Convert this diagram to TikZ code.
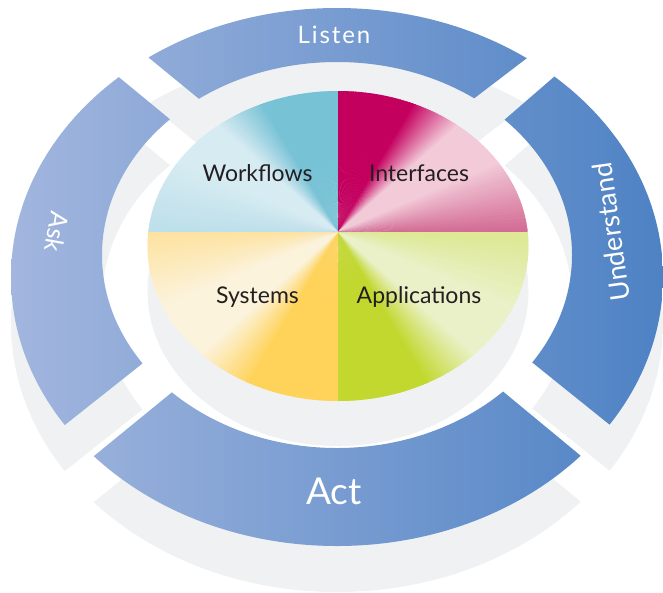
\documentclass[tikz,border=0pt]{standalone}
\usepackage{fontspec}
\setmainfont{Lato}
\usetikzlibrary{calc}
\definecolor{ringL}{RGB}{162,182,222}
\definecolor{ringR}{RGB}{78,130,196}
\definecolor{shadowgray}{RGB}{240,241,243}
\definecolor{wfSat}{RGB}{120,194,214}
\definecolor{wfLight}{RGB}{214,235,242}
\definecolor{wfEdge}{RGB}{188,223,234}
\definecolor{ifSat}{RGB}{196,0,95}
\definecolor{ifLight}{RGB}{242,202,216}
\definecolor{ifEdge}{RGB}{210,104,146}
\definecolor{apSat}{RGB}{194,216,47}
\definecolor{apLight}{RGB}{234,241,200}
\definecolor{apEdge}{RGB}{220,232,145}
\definecolor{sySat}{RGB}{255,211,90}
\definecolor{syLight}{RGB}{252,243,220}
\definecolor{syEdge}{RGB}{253,226,158}
\definecolor{labeltext}{RGB}{35,31,32}
\newcommand{\ringpiece}[6]{%
  \begin{scope}[even odd rule]
    \clip ($(#2)!2.5!(#1)$) -- ($(#1)!1.3!(#2)$) -- ($(#4)!1.3!(#3)$) -- ($(#3)!2.5!(#4)$) -- (#5) -- cycle;
    \clip (337,277) ellipse [x radius=326pt, y radius=269pt] (337,255) ellipse [x radius=235pt, y radius=193pt];
    #6
  \end{scope}}
\newcommand{\allpieces}[1]{%
  \ringpiece{148.3,57.3}{198.3,98.3}{475,97.7}{526.7,58.3}{337,-400}{#1}%
  \ringpiece{555,76}{505,119.3}{533.3,363.3}{610,425}{1100,250}{#1}%
  \ringpiece{94,456}{171.7,392.5}{504,392.3}{581,456}{337,1000}{#1}%
  \ringpiece{118.3,76.7}{170,119.3}{142.7,363.3}{65.7,424.3}{-400,250}{#1}}
\newcommand{\quadfill}[5]{%
  \foreach \t in {0,...,89}{%
    \pgfmathtruncatemacro\ps{\t<30 ? 100 : (\t<48 ? 100-(\t-30)*100/18 : 0)}%
    \pgfmathtruncatemacro\pe{\t<66 ? 0 : (\t-66)*100/24}%
    \colorlet{wc}{#3!\ps!#4}\colorlet{wc}{#5!\pe!wc}%
    \fill[wc] (C) -- ($(C)+({#1+#2*\t}:300)$) -- ($(C)+({#1+#2*(\t+1.4)}:300)$) -- cycle;
  }}
\tikzset{
  inlabel/.style={text=labeltext, font=\fontsize{23}{23}\selectfont, inner sep=0pt},
  ringlabel/.style={text=white, inner sep=0pt}
}
\begin{document}
\begin{tikzpicture}[x=1pt, y=-1pt]
\useasboundingbox (0,0) rectangle (663,592);
\fill[white] (0,0) rectangle (663,592);
\coordinate (C) at (338,232);
% shadow of the ring
\begin{scope}[yshift=-46pt]
  \allpieces{\fill[shadowgray] (-100,-500) rectangle (800,1100);}
\end{scope}
% shadow of the disk
\fill[shadowgray] (338,291) ellipse [x radius=190.5pt, y radius=155pt];
% blue ring
\allpieces{\shade[left color=ringL, right color=ringR] (11,-20) rectangle (664,620);}
% central disk quadrants
\begin{scope}
  \clip (338,246) ellipse [x radius=190.5pt, y radius=155pt];
  \begin{scope}\clip (338,232) rectangle (100,50); \quadfill{270}{-1}{wfSat}{wfLight}{wfEdge}\end{scope}
  \begin{scope}\clip (338,232) rectangle (600,50); \quadfill{270}{1}{ifSat}{ifLight}{ifEdge}\end{scope}
  \begin{scope}\clip (338,232) rectangle (600,450); \quadfill{90}{-1}{apSat}{apLight}{apEdge}\end{scope}
  \begin{scope}\clip (338,232) rectangle (100,450); \quadfill{90}{1}{sySat}{syLight}{syEdge}\end{scope}
\end{scope}
% labels
\node[inlabel] (wf) at (257.5,173) {Workflows};
\node[inlabel] (if) at (419,173) {Interfaces};
\node[inlabel] (sy) at (257.5,297) {Systems};
\node[inlabel] (ap) at (419,297) {Applications};
\node[ringlabel, font=\fontsize{24}{24}\selectfont\addfontfeatures{LetterSpace=8}] (listen) at (334,35) {Listen};
\node[ringlabel, font=\fontsize{37}{37}\selectfont] (act) at (334,491) {Act};
\node[ringlabel, rotate=-100, font=\fontsize{25}{25}\selectfont] (ask) at (57,232) {Ask};
\node[ringlabel, rotate=98, font=\fontsize{27}{27}\selectfont] (und) at (611,232) {Understand};
\end{tikzpicture}
\end{document}
